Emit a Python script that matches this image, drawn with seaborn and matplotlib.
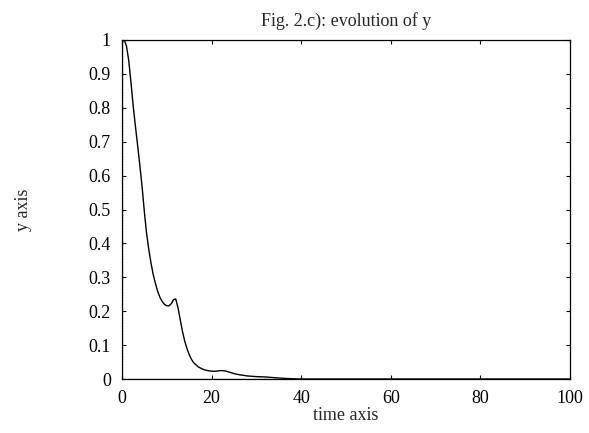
import numpy as np
import pandas as pd
import matplotlib
matplotlib.use("Agg")
import matplotlib.pyplot as plt
import seaborn as sns

# values
time_axis = [0, 0.5, 1, 1.5, 2, 2.5, 3, 3.5, 4, 4.5, 5, 5.5, 6, 6.5, 7, 7.5,
             8, 8.5, 9, 9.5, 10, 10.5, 11, 11.5, 12, 12.5, 13, 13.5, 14,
             14.5, 15, 15.5, 16, 17, 18, 19, 20, 21, 22, 23, 24, 25, 26, 28,
             30, 32, 33, 34, 36, 38, 40, 100]
y_values = [0.995, 1.0, 0.982, 0.94, 0.875, 0.805, 0.745, 0.688, 0.628,
            0.565, 0.492, 0.428, 0.38, 0.34, 0.306, 0.28, 0.257, 0.24,
            0.228, 0.22, 0.216, 0.216, 0.222, 0.234, 0.236, 0.21, 0.175,
            0.14, 0.112, 0.09, 0.072, 0.058, 0.048, 0.036, 0.029, 0.025,
            0.023, 0.023, 0.025, 0.024, 0.02, 0.016, 0.013, 0.009, 0.007,
            0.006, 0.005, 0.004, 0.002, 0.0008, 0.0, 0.0]

x_ticks = [0, 20, 40, 60, 80, 100]
y_ticks = [0, 0.1, 0.2, 0.3, 0.4, 0.5, 0.6, 0.7, 0.8, 0.9, 1]
y_tick_labels = ["0", "0.1", "0.2", "0.3", "0.4", "0.5", "0.6", "0.7", "0.8", "0.9", "1"]

df = pd.DataFrame({"t": time_axis, "y": y_values})

sns.set_style("white")
plt.rcParams["font.family"] = ["Liberation Serif", "DejaVu Serif"]

fig = plt.figure(figsize=(5.89, 4.33), dpi=100)
ax = fig.add_axes([122 / 589, 1 - 379 / 433, (570 - 122) / 589, (379 - 40) / 433])

sns.lineplot(data=df, x="t", y="y", ax=ax, color="black", linewidth=1.0)

# gnuplot style zero axes
ax.axhline(0, color="#555555", linewidth=1.0, linestyle=(0, (1, 1)))
ax.axvline(0, color="#555555", linewidth=1.0, linestyle=(0, (1, 1)))

ax.set_xlim(0, 100)
ax.set_ylim(0, 1)
ax.set_xticks(x_ticks)
ax.set_xticklabels([str(v) for v in x_ticks])
ax.set_yticks(y_ticks)
ax.set_yticklabels(y_tick_labels)
ax.tick_params(direction="in", length=3, width=0.8, labelsize=13,
               top=True, right=True, bottom=True, left=True, pad=8, colors="black")
for s in ax.spines.values():
    s.set_color("black")
    s.set_linewidth(0.9)

ax.set_xlabel("time axis", fontsize=13, labelpad=0)
ax.set_ylabel("y axis", fontsize=13, labelpad=41)
ax.set_title("Fig. 2.c): evolution of y", fontsize=13, pad=10)

fig.savefig("out.png", dpi=100)
